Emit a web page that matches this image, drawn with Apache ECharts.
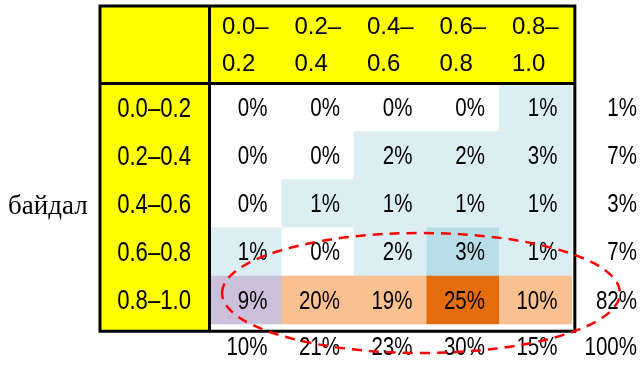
<!DOCTYPE html>
<html>
<head>
<meta charset="utf-8">
<script src="https://cdn.jsdelivr.net/npm/echarts@6/dist/echarts.min.js"></script>
<style>
  html, body { margin: 0; padding: 0; background: #fff; }
  #main { width: 644px; height: 372px; }
</style>
</head>
<body>
<div id="main"></div>
<script>
// row / column headers
var rowLabels = ['0.0–0.2', '0.2–0.4', '0.4–0.6', '0.6–0.8', '0.8–1.0'];
var colTop = ['0.0–', '0.2–', '0.4–', '0.6–', '0.8–'];
var colBottom = ['0.2', '0.4', '0.6', '0.8', '1.0'];
// shares in %, rows top to bottom
var share = [
  [0, 0, 0, 0, 1],
  [0, 0, 2, 2, 3],
  [0, 1, 1, 1, 1],
  [1, 0, 2, 3, 1],
  [9, 20, 19, 25, 10]
];
var rowTotals = [1, 7, 3, 7, 82];
var colTotals = [10, 21, 23, 30, 15];
var grandTotal = 100;
var sideTitle = 'байдал';

// cell shading (style only)
var shade = [
  ['w', 'w', 'w', 'w', 'b'],
  ['w', 'w', 'b', 'b', 'b'],
  ['w', 'b', 'b', 'b', 'b'],
  ['b', 'w', 'b', 'm', 'b'],
  ['p', 'o', 'o', 'd', 'o']
];
var shadeColor = { w: '#ffffff', b: '#daeef3', m: '#b7dee8', p: '#ccc0da', o: '#fac090', d: '#e46c0a' };

var sans = '"Liberation Sans", Arial, sans-serif';
var narrow = 0.82; // the original uses a condensed face

// grid / table geometry
var L = 209, T = 83, CW = 73.17, RH = 49.67;
var tableLeft = 100, tableTop = 6, tableRight = L + 5 * CW, tableBottom = T + 5 * RH;

var cells = [];
for (var r = 0; r < 5; r++) {
  for (var c = 0; c < 5; c++) {
    cells.push({ value: [c, r, share[r][c]], itemStyle: { color: shadeColor[shade[r][c]] } });
  }
  cells.push({ value: [5, r, rowTotals[r]], itemStyle: { color: 'rgba(0,0,0,0)' } });
}
for (var c2 = 0; c2 < 5; c2++) {
  cells.push({ value: [c2, 5, colTotals[c2]], itemStyle: { color: 'rgba(0,0,0,0)' } });
}
cells.push({ value: [5, 5, grandTotal], itemStyle: { color: 'rgba(0,0,0,0)' } });

function renderCell(params, api) {
  var col = api.value(0), row = api.value(1);
  var p = api.coord([col, row]);
  var s = api.size([1, 1]);
  var pad = col === 5 ? 7 : 14;
  var dy = row < 5 ? 2 : 0;
  return {
    type: 'group',
    children: [
      { type: 'rect', shape: { x: p[0] - s[0] / 2, y: p[1] - s[1] / 2, width: s[0] + 0.5, height: s[1] + 0.5 }, style: { fill: api.visual('color') } },
      { type: 'text', x: p[0] + s[0] / 2 - pad, y: p[1] + dy, scaleX: narrow,
        style: { text: api.value(2) + '%', align: 'right', verticalAlign: 'middle', fontSize: 25, fontFamily: sans, fill: '#000' } }
    ]
  };
}

function renderRowLabel(params, api) {
  var p = api.coord([0, api.value(0)]);
  var s = api.size([1, 1]);
  return {
    type: 'text', x: p[0] - s[0] / 2 - 18, y: p[1] + 2, scaleX: narrow,
    style: { text: rowLabels[api.value(0)], align: 'right', verticalAlign: 'middle', fontSize: 27, fontFamily: sans, fill: '#000' }
  };
}

function renderColLabel(params, api) {
  var i = api.value(0);
  var p = api.coord([i, 0]);
  var s = api.size([1, 1]);
  var x0 = p[0] - s[0] / 2 + 13;
  var top = p[1] - s[1] / 2;
  return {
    type: 'group',
    children: [
      { type: 'text', x: x0, y: top - 56, style: { text: colTop[i], align: 'left', verticalAlign: 'middle', fontSize: 24, fontFamily: sans, fill: '#000' } },
      { type: 'text', x: x0, y: top - 18.5, style: { text: colBottom[i], align: 'left', verticalAlign: 'middle', fontSize: 24, fontFamily: sans, fill: '#000' } }
    ]
  };
}

var chart = echarts.init(document.getElementById('main'));
chart.setOption({
  animation: false,
  grid: { left: L, top: T, width: 6 * CW, height: 6 * RH },
  xAxis: {
    type: 'category',
    data: colTop.concat(['']),
    show: false
  },
  yAxis: {
    type: 'category',
    inverse: true,
    data: rowLabels.concat(['']),
    show: false
  },
  series: [{
    type: 'custom',
    clip: false,
    silent: true,
    data: cells,
    renderItem: renderCell
  }, {
    type: 'custom',
    clip: false,
    silent: true,
    data: rowLabels.map(function (t, i) { return [i]; }),
    renderItem: renderRowLabel
  }, {
    type: 'custom',
    clip: false,
    silent: true,
    data: colTop.map(function (t, i) { return [i]; }),
    renderItem: renderColLabel
  }],
  graphic: [
    { type: 'rect', z: -10, shape: { x: tableLeft, y: tableTop, width: tableRight - tableLeft, height: T - tableTop }, style: { fill: '#ffff00' } },
    { type: 'rect', z: -10, shape: { x: tableLeft, y: T, width: L - tableLeft, height: tableBottom - T }, style: { fill: '#ffff00' } },
    { type: 'rect', z: 50, shape: { x: tableLeft, y: tableTop, width: tableRight - tableLeft, height: tableBottom - tableTop }, style: { fill: 'none', stroke: '#000', lineWidth: 3 } },
    { type: 'line', z: 50, shape: { x1: L + 0.5, y1: tableTop, x2: L + 0.5, y2: tableBottom }, style: { stroke: '#000', lineWidth: 3 } },
    { type: 'line', z: 50, shape: { x1: tableLeft, y1: T + 0.5, x2: tableRight, y2: T + 0.5 }, style: { stroke: '#000', lineWidth: 3 } },
    { type: 'text', z: 50, x: 8, y: T + 2.5 * RH, style: { text: sideTitle, fontSize: 27, fontFamily: '"Liberation Serif", "Times New Roman", serif', fill: '#000', verticalAlign: 'middle' } },
    { type: 'ellipse', z: 60, shape: { cx: 421, cy: 293, rx: 199, ry: 60 }, style: { fill: 'none', stroke: '#ff0000', lineWidth: 2.5, lineDash: [10, 7] } }
  ]
});
</script>
</body>
</html>
